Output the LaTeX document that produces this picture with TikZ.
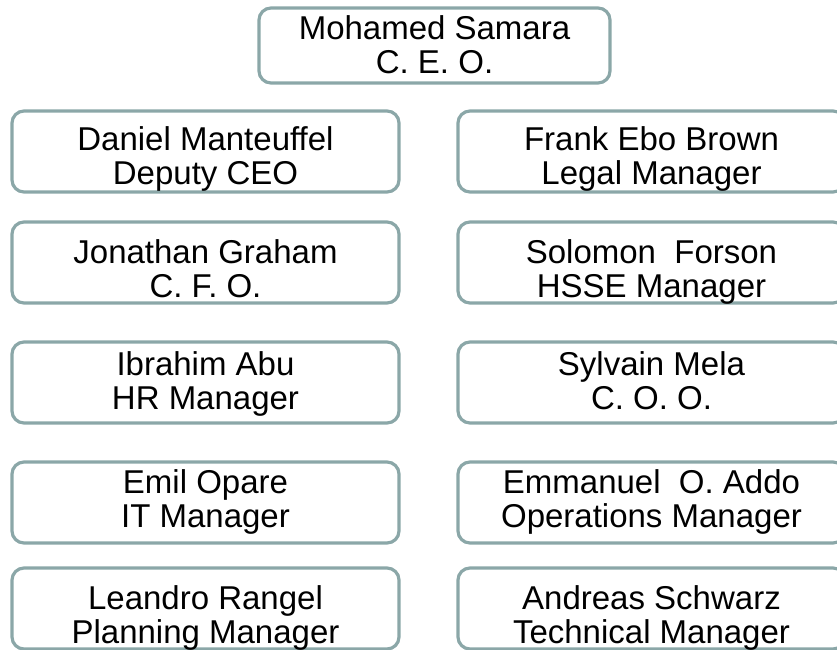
\documentclass[tikz,border=0pt]{standalone}
\usepackage{fontspec}
\setmainfont{Liberation Sans}
\definecolor{boxc}{RGB}{139,167,168}
\newcommand{\lnstrut}{\rule[-6pt]{0pt}{36pt}}
\begin{document}
\begin{tikzpicture}[x=1pt,y=-1pt,
  box/.style={draw=boxc, line width=3.2pt, rounded corners=12pt,
    minimum width=387pt, minimum height=81pt, inner sep=0pt},
  lbl/.style={align=center, font=\fontsize{33}{34}\selectfont, inner sep=0pt,
    text=black, execute at begin node=\lnstrut, execute at end node=\lnstrut}]
\useasboundingbox (0,0) rectangle (837,649);
\clip (0,0) rectangle (837,649);
% boxes
\node[box, minimum width=351pt, minimum height=75pt] (ceo) at (434.5,45.5) {};
\node[box] (dep) at (205.5,151.5) {};
\node[box] (cfo) at (205.5,262.5) {};
\node[box] (hr) at (205.5,382.5) {};
\node[box] (it) at (205.5,502.5) {};
\node[box] (plan) at (205.5,608.5) {};
\node[box] (legal) at (651.5,151.5) {};
\node[box] (hsse) at (651.5,262.5) {};
\node[box] (coo) at (651.5,382.5) {};
\node[box] (ops) at (651.5,502.5) {};
\node[box] (tech) at (651.5,608.5) {};
% labels
\node[lbl] (ceo-t) at (434.5,48) {Mohamed Samara\\C. E. O.};
\node[lbl] (dep-t) at (205.5,159) {Daniel Manteuffel\\Deputy CEO};
\node[lbl] (cfo-t) at (205.5,271.5) {Jonathan Graham\\C. F. O.};
\node[lbl] (hr-t) at (205.5,384) {Ibrahim Abu\\HR Manager};
\node[lbl] (it-t) at (205.5,502) {Emil Opare\\IT Manager};
\node[lbl] (plan-t) at (205.5,618) {Leandro Rangel\\Planning Manager};
\node[lbl] (legal-t) at (651.5,159) {Frank Ebo Brown\\Legal Manager};
\node[lbl] (hsse-t) at (651.5,271.5) {Solomon\ \ Forson\\HSSE Manager};
\node[lbl] (coo-t) at (651.5,384) {Sylvain Mela\\C. O. O.};
\node[lbl] (ops-t) at (651.5,502) {Emmanuel\ \ O. Addo\\Operations Manager};
\node[lbl] (tech-t) at (651.5,618) {Andreas Schwarz\\Technical Manager};
\end{tikzpicture}
\end{document}
